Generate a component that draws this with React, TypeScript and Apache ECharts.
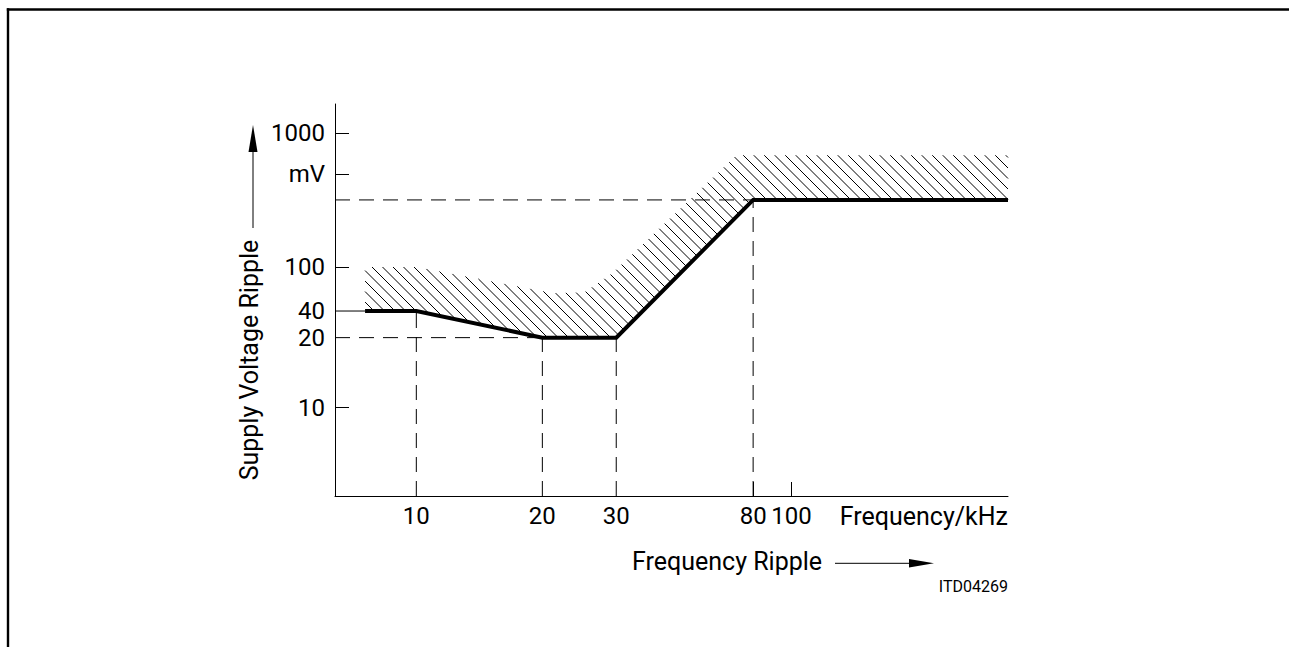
import React, { useEffect, useRef } from "react";
import * as echarts from "echarts";

// ---- axis definition (schematic, log-like axes) ----
const xTickValues = [10, 20, 30, 80, 100];
const xTickLabels = ["10", "20", "30", "80", "100"];
const xTickPos = [1.0, 1.336, 1.533, 1.898, 2.0];
const xAxisRange = [6.07, 378];
const xSolidTicks = [80, 100];

const yTickValues = [10, 20, 40, 100, 500, 1000];
const yTickLabels = ["10", "20", "40", "100", "mV", "1000"];
const yTickPos = [1.0, 1.511, 1.705, 2.026, 2.703, 3.0];
const yAxisRange = [2.27, 1640];
const ySolidTicks = [10, 100, 500, 1000];

// ---- data ----
const curveKHz = [7.3, 10, 20, 30, 80, 378];
const curveMV = [40, 40, 20, 20, 320, 320];
const hatchTopKHz = [7.3, 10, 21.2, 25.2, 29.4, 71, 378];
const hatchTopMV = [100, 100, 58, 59, 88, 690, 690];

// guide lines: [x1, y1, x2, y2] in kHz / mV
const dashedGuides = [
  [6.07, 20, 20, 20],
  [6.07, 320, 80, 320],
  [10, 2.27, 10, 40],
  [20, 2.27, 20, 20],
  [30, 2.27, 30, 20],
  [80, 2.27, 80, 320],
];
const solidGuides = [[6.07, 40, 7.3, 40]];

function schematic(v: number, vals: number[], pos: number[]): number {
  const lv = Math.log10(v);
  const lvals = vals.map((d) => Math.log10(d));
  const n = vals.length;
  if (lv <= lvals[0]) return pos[0] - (lvals[0] - lv);
  if (lv >= lvals[n - 1]) return pos[n - 1] + (lv - lvals[n - 1]);
  for (let i = 0; i < n - 1; i++) {
    if (lv <= lvals[i + 1]) {
      return pos[i] + ((lv - lvals[i]) / (lvals[i + 1] - lvals[i])) * (pos[i + 1] - pos[i]);
    }
  }
  return pos[n - 1];
}
const fx = (v: number) => schematic(v, xTickValues, xTickPos);
const fy = (v: number) => schematic(v, yTickValues, yTickPos);

const FONT = "Roboto";

export default function App() {
  const ref = useRef<HTMLDivElement>(null);
  useEffect(() => {
    document.body.style.margin = "0";
    document.body.style.overflow = "hidden";
    if (!ref.current) return;
    const chart = echarts.init(ref.current, undefined, { renderer: "svg" });

    const hatchStep = 10.5;
    const renderHatch = (params: any, api: any) => {
      const top = hatchTopKHz.map((x, i) => api.coord([fx(x), fy(hatchTopMV[i])]));
      const bottom = curveKHz.map((x, i) => api.coord([fx(x), fy(curveMV[i])])).reverse();
      const poly = top.concat(bottom);
      let cmin = Infinity;
      let cmax = -Infinity;
      poly.forEach((p: number[]) => {
        const c = p[1] - p[0];
        if (c < cmin) cmin = c;
        if (c > cmax) cmax = c;
      });
      const children: any[] = [];
      const n = poly.length;
      for (let c = Math.ceil(cmin / hatchStep) * hatchStep; c <= cmax; c += hatchStep) {
        const xs: number[] = [];
        for (let i = 0; i < n; i++) {
          const a = poly[i];
          const b = poly[(i + 1) % n];
          const d1 = a[1] - a[0] - c;
          const d2 = b[1] - b[0] - c;
          if (d1 > 0 !== d2 > 0) {
            const t = d1 / (d1 - d2);
            xs.push(a[0] + t * (b[0] - a[0]));
          }
        }
        xs.sort((p, q) => p - q);
        for (let k = 0; k + 1 < xs.length; k += 2) {
          children.push({
            type: "line",
            shape: { x1: xs[k], y1: xs[k] + c, x2: xs[k + 1], y2: xs[k + 1] + c },
            style: { stroke: "#000", lineWidth: 1 },
          });
        }
      }
      return { type: "group", children };
    };

    const guideSeries = (g: number[], dashed: boolean) => ({
      type: "line",
      silent: true,
      symbol: "none",
      z: 3,
      data: [
        [fx(g[0]), fy(g[1])],
        [fx(g[2]), fy(g[3])],
      ],
      lineStyle: { color: "#000", width: 1, type: dashed ? [15, 9] : "solid" },
    });

    const option: any = {
      animation: false,
      grid: { left: 335, right: 281, top: 104, bottom: 151 },
      xAxis: {
        type: "value",
        min: fx(xAxisRange[0]),
        max: fx(xAxisRange[1]),
        axisLine: { show: true, lineStyle: { color: "#000", width: 1 } },
        axisTick: {
          show: true,
          inside: true,
          length: 14,
          customValues: xSolidTicks.map(fx),
          lineStyle: { color: "#000", width: 1 },
        },
        axisLabel: {
          customValues: xTickValues.map(fx),
          formatter: (v: number) => {
            const i = xTickValues.findIndex((t) => Math.abs(fx(t) - v) < 1e-6);
            return i >= 0 ? xTickLabels[i] : "";
          },
          color: "#000",
          fontFamily: FONT,
          fontSize: 24,
          verticalAlign: "middle",
          margin: 20,
        },
        splitLine: { show: false },
      },
      yAxis: {
        type: "value",
        min: fy(yAxisRange[0]),
        max: fy(yAxisRange[1]),
        axisLine: { show: true, lineStyle: { color: "#000", width: 1 } },
        axisTick: {
          show: true,
          inside: true,
          length: 14,
          customValues: ySolidTicks.map(fy),
          lineStyle: { color: "#000", width: 1 },
        },
        axisLabel: {
          customValues: yTickValues.map(fy),
          formatter: (v: number) => {
            const i = yTickValues.findIndex((t) => Math.abs(fy(t) - v) < 1e-6);
            return i >= 0 ? yTickLabels[i] : "";
          },
          color: "#000",
          fontFamily: FONT,
          fontSize: 24,
          margin: 10,
        },
        splitLine: { show: false },
      },
      series: [
        {
          type: "custom",
          silent: true,
          clip: false,
          z: 2,
          renderItem: renderHatch,
          data: [[fx(xAxisRange[0]), fy(yAxisRange[0])]],
        },
        ...dashedGuides.map((g) => guideSeries(g, true)),
        ...solidGuides.map((g) => guideSeries(g, false)),
        {
          type: "line",
          silent: true,
          symbol: "none",
          z: 5,
          data: curveKHz.map((x, i) => [fx(x), fy(curveMV[i])]),
          lineStyle: { color: "#000", width: 4, join: "miter" },
        },
      ],
      graphic: [
        { type: "line", shape: { x1: 6.8, y1: 9.5, x2: 1289, y2: 9.5 }, style: { stroke: "#000", lineWidth: 2.4 } },
        { type: "line", shape: { x1: 8, y1: 8.3, x2: 8, y2: 647 }, style: { stroke: "#000", lineWidth: 2.4 } },
        {
          type: "text",
          x: 1008,
          y: 516,
          style: { text: "Frequency/kHz", fill: "#000", font: `25px ${FONT}`, align: "right", verticalAlign: "middle" },
        },
        {
          type: "text",
          x: 632,
          y: 561,
          style: { text: "Frequency Ripple", fill: "#000", font: `25px ${FONT}`, align: "left", verticalAlign: "middle" },
        },
        { type: "line", shape: { x1: 835, y1: 563.3, x2: 912, y2: 563.3 }, style: { stroke: "#000", lineWidth: 1 } },
        { type: "polygon", shape: { points: [[909, 559], [934, 563.3], [909, 567.5]] }, style: { fill: "#000" } },
        {
          type: "text",
          x: 1008,
          y: 586,
          style: { text: "ITD04269", fill: "#000", font: `16px ${FONT}`, align: "right", verticalAlign: "middle" },
        },
        {
          type: "text",
          x: 249,
          y: 360,
          rotation: Math.PI / 2,
          style: {
            text: "Supply Voltage Ripple",
            fill: "#000",
            font: `25px ${FONT}`,
            align: "center",
            verticalAlign: "middle",
          },
        },
        { type: "line", shape: { x1: 253, y1: 228, x2: 253, y2: 150 }, style: { stroke: "#000", lineWidth: 1 } },
        { type: "polygon", shape: { points: [[248.5, 152], [253, 125], [257.5, 152]] }, style: { fill: "#000" } },
      ],
    };
    chart.setOption(option);
    return () => chart.dispose();
  }, []);
  return (
    <div
      ref={ref}
      style={{ position: "absolute", left: 0, top: 0, width: 1289, height: 647, background: "#fff" }}
    />
  );
}
